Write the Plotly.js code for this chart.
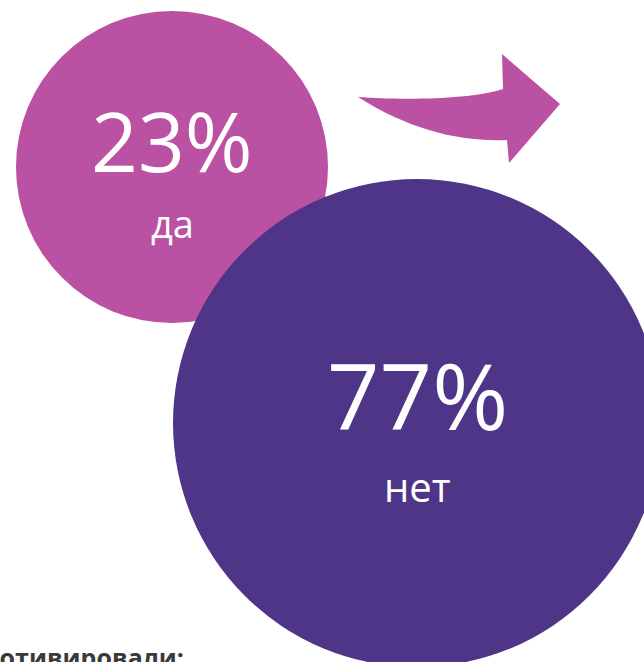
<!DOCTYPE html>
<html>
<head>
<meta charset="utf-8">
<script src="https://cdn.plot.ly/plotly-3.0.1.min.js"></script>
<style>html,body{margin:0;padding:0;background:#fff;}#chart{width:644px;height:662px;}</style>
</head>
<body>
<div id="chart"></div>
<script>
// Data
var categories = ['да', 'нет'];
var values = [23, 77];
var colors = ['#BB51A3', '#4E3587'];
var footerText = 'Мотивировали:';

// Layout geometry (pixel-like axis units)
var W = 644, H = 662;
var centersX = [172, 417];
var centersY = [167, 423];
var radii = [156, 244];
var valueFont = [82, 92];
var labelFont = [38, 40];
var valueY = [140, 394];
var labelY = [223, 486];

var shapes = [];
var annotations = [];
for (var i = 0; i < categories.length; i++) {
  shapes.push({
    type: 'circle', xref: 'x', yref: 'y',
    x0: centersX[i] - radii[i], x1: centersX[i] + radii[i],
    y0: centersY[i] - radii[i], y1: centersY[i] + radii[i],
    fillcolor: colors[i], line: {width: 0}, layer: 'below'
  });
  annotations.push({
    xref: 'x', yref: 'y', x: centersX[i], y: valueY[i],
    text: values[i] + '%', showarrow: false,
    xanchor: 'center', yanchor: 'middle',
    font: {family: 'Open Sans', size: valueFont[i], color: '#ffffff'}
  });
  annotations.push({
    xref: 'x', yref: 'y', x: centersX[i], y: labelY[i],
    text: categories[i], showarrow: false,
    xanchor: 'center', yanchor: 'middle',
    font: {family: 'Open Sans', size: labelFont[i], color: '#ffffff'}
  });
}
// arrow
shapes.unshift({
  type: 'path', xref: 'x', yref: 'y',
  path: 'M 358 97 C 400 100, 470 100, 503 89 L 502 54 L 560 104 L 509 163 L 507 140 C 460 142, 410 130, 358 97 Z',
  fillcolor: colors[0], line: {width: 0}, layer: 'below'
});
annotations.push({
  xref: 'paper', yref: 'paper', x: -26 / W, y: 1 - 657 / H,
  text: '<b>' + footerText + '</b>', showarrow: false,
  xanchor: 'left', yanchor: 'middle',
  font: {family: 'Open Sans', size: 25, color: '#3a3a3a'}
});

var layout = {
  width: W, height: H,
  margin: {l: 0, r: 0, t: 0, b: 0},
  paper_bgcolor: '#ffffff', plot_bgcolor: '#ffffff',
  xaxis: {range: [0, W], visible: false, fixedrange: true},
  yaxis: {range: [H, 0], visible: false, fixedrange: true},
  shapes: shapes,
  annotations: annotations,
  showlegend: false
};

Plotly.newPlot('chart', [{x: [], y: [], type: 'scatter', mode: 'markers', hoverinfo: 'skip'}], layout, {displayModeBar: false, staticPlot: true});
</script>
</body>
</html>
